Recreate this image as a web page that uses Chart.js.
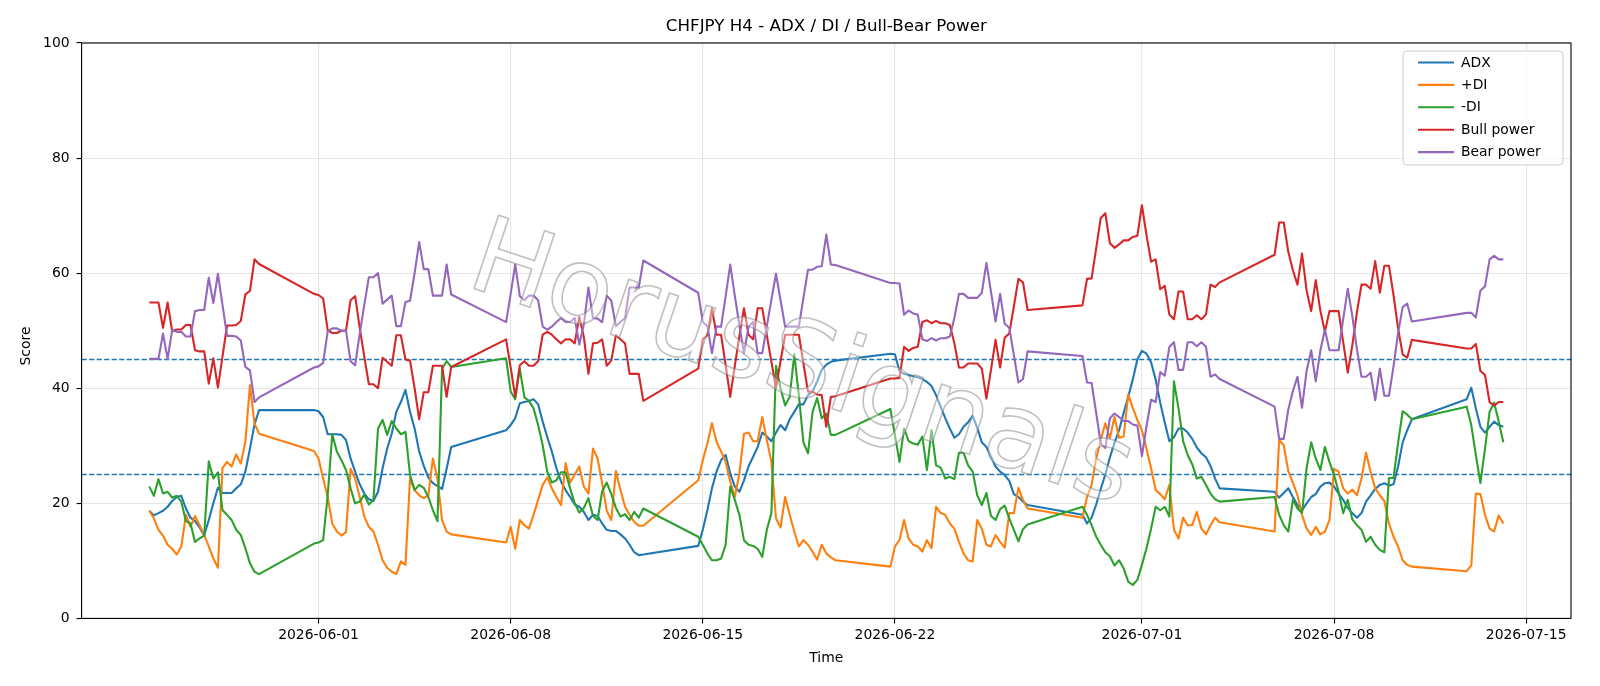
<!DOCTYPE html>
<html><head><meta charset="utf-8">
<script src="https://cdn.jsdelivr.net/npm/chart.js@4.4.1/dist/chart.umd.min.js"></script>
<style>html,body{margin:0;padding:0;background:#fff}#wrap{width:1600px;height:686px}</style>
</head><body><div id="wrap"><canvas id="c" width="1600" height="686"></canvas></div>
<script>
const chartTitle = 'CHFJPY H4 - ADX / DI / Bull-Bear Power';
const xAxisTitle = 'Time';
const yAxisTitle = 'Score';
const watermarkText = 'HorusSignals';
// H4 trading sessions (UTC), one bar every 4 hours inside each session
const sessions = [
  ['2026-05-25T20:00Z', '2026-05-29T20:00Z'],
  ['2026-05-31T20:00Z', '2026-06-05T20:00Z'],
  ['2026-06-07T20:00Z', '2026-06-12T20:00Z'],
  ['2026-06-14T20:00Z', '2026-06-19T20:00Z'],
  ['2026-06-21T20:00Z', '2026-06-26T20:00Z'],
  ['2026-06-28T20:00Z', '2026-07-03T20:00Z'],
  ['2026-07-05T20:00Z', '2026-07-10T20:00Z'],
  ['2026-07-12T20:00Z', '2026-07-14T04:00Z']
];
const xTickLabels = ['2026-06-01','2026-06-08','2026-06-15','2026-06-22','2026-07-01','2026-07-08','2026-07-15'];
const yTickValues = [0, 20, 40, 60, 80, 100];
const thresholds = [45, 25];
const seriesNames = ['ADX', '+DI', '-DI', 'Bull power', 'Bear power'];
const seriesColors = ['#1f77b4', '#ff7f0e', '#2ca02c', '#d62728', '#9467bd'];

const adx = [
  18.7,17.9,18.3,18.7,19.4,20.4,21.1,21.3,19.1,17.5,16.9,15.8,14.4,17.1,20.0,22.7,21.8,21.8,21.8,22.6,23.3,25.5,29.5,33.7,36.2,
  36.2,36.0,35.0,32.0,32.0,32.0,31.9,31.0,27.8,25.5,23.3,21.7,20.7,20.4,22.0,26.1,29.5,32.1,35.9,37.6,39.7,35.9,33.0,29.0,26.5,24.5,23.5,23.0,22.5,26.0,29.8,
  32.7,33.6,34.8,37.4,37.6,37.8,38.1,37.2,34.2,31.5,29.0,26.1,23.8,22.3,21.1,19.8,19.4,18.5,17.1,18.0,17.8,16.5,15.4,15.2,15.2,14.6,13.9,12.8,11.5,11.0,11.1,
  12.6,15.4,18.8,22.6,25.5,27.5,28.4,25.2,22.9,22.0,24.0,26.4,28.1,29.8,32.3,31.6,30.8,32.3,33.6,32.7,34.6,35.9,37.2,37.2,38.8,39.4,41.2,43.2,44.1,44.6,44.8,
  46.0,45.9,43.0,42.5,42.3,42.1,41.9,41.6,41.1,40.4,38.8,36.8,34.8,33.0,31.4,32.0,33.3,34.1,35.2,33.1,30.6,29.8,28.1,26.4,25.5,24.9,23.9,21.6,21.1,20.3,19.7,
  18.0,16.5,17.5,19.8,22.5,25.0,28.0,30.5,32.7,35.7,38.5,41.5,45.0,46.5,46.0,44.5,41.5,37.5,34.0,30.8,31.5,33.0,33.0,32.3,31.2,29.7,28.7,28.0,26.5,24.3,22.6,
  22.0,21.0,21.8,22.6,21.1,19.7,18.8,20.0,21.1,21.6,22.9,23.5,23.6,22.9,21.7,20.6,19.2,18.3,17.5,18.3,20.3,21.4,22.5,23.2,23.5,23.1,23.3,26.4,30.6,32.7,34.6,
  38.1,40.1,36.5,33.3,32.3,33.3,34.2,33.6,33.3
];
const plusDI = [
  18.7,17.4,15.4,14.4,12.8,12.1,11.1,12.5,18.0,15.9,17.8,16.2,14.5,12.5,10.4,8.8,26.1,27.2,26.4,28.5,26.9,30.7,40.5,33.9,32.1,
  29.1,27.8,24.3,21.1,16.5,15.1,14.4,15.0,26.0,24.3,21.1,17.7,15.9,15.1,12.8,10.1,8.8,8.1,7.7,9.9,9.3,24.3,22.3,21.4,20.9,21.4,27.8,24.3,17.1,15.1,14.6,
  13.2,15.9,12.1,17.1,16.2,15.6,18.0,20.6,23.2,24.5,22.6,21.1,19.7,27.0,23.6,25.0,26.4,22.9,21.7,29.5,27.8,23.5,18.7,17.1,25.6,22.3,19.4,18.0,16.8,16.1,16.1,
  24.0,27.5,30.4,33.9,30.7,29.0,27.2,23.8,21.1,25.2,32.1,32.3,30.8,30.8,35.0,31.0,27.2,17.4,15.8,21.1,18.0,15.1,12.5,13.6,12.8,11.6,10.2,12.8,11.3,10.6,10.1,
  9.0,12.5,13.6,17.1,13.9,12.8,12.5,11.6,13.6,12.2,19.4,18.3,18.0,16.5,15.6,13.3,11.3,10.1,9.9,17.1,15.6,12.8,12.5,14.5,13.3,12.3,18.3,18.3,22.7,20.6,19.1,
  17.5,21.1,23.2,27.8,31.0,33.9,31.3,35.0,31.4,31.6,38.9,36.6,34.5,32.7,29.5,26.1,22.3,21.6,20.7,23.2,15.4,13.9,17.5,16.2,16.2,18.5,15.6,14.6,16.2,17.5,16.7,
  15.1,31.0,30.1,25.6,23.6,21.4,18.0,15.6,14.5,15.9,14.6,15.1,17.1,26.0,25.5,22.6,21.7,22.4,21.4,24.3,28.8,25.4,22.6,21.4,20.4,16.5,14.2,12.5,10.1,9.3,9.0,
  8.2,9.2,21.7,21.6,18.0,15.6,15.1,17.9,16.5
];
const minusDI = [
  22.9,21.3,24.2,21.7,22.0,21.0,21.3,20.3,16.9,16.5,13.3,13.9,14.4,27.3,24.3,25.4,18.8,18.0,17.1,15.4,14.5,12.2,9.6,8.1,7.7,
  13.0,13.2,13.6,21.4,32.0,29.0,27.5,25.8,22.6,20.0,20.3,21.5,19.8,20.6,33.0,34.5,31.9,34.3,33.0,32.0,32.4,24.9,22.3,23.2,22.7,21.1,18.8,16.9,43.4,44.7,43.7,
  45.2,39.4,38.1,43.4,38.4,37.8,36.5,33.6,30.1,25.5,23.6,24.0,25.4,25.4,22.6,20.0,18.4,19.2,20.9,17.8,17.1,22.1,23.6,21.6,19.2,17.7,18.1,17.1,18.5,17.5,19.1,
  14.2,12.8,11.3,10.1,10.1,10.4,12.8,22.9,20.6,18.0,13.6,12.8,12.6,12.1,10.7,15.4,18.3,43.9,40.0,37.0,38.5,45.9,38.8,30.6,28.7,35.9,38.3,34.8,35.6,31.9,31.9,
  36.4,31.9,27.2,33.0,30.8,30.4,30.2,31.6,25.8,32.7,26.6,26.2,24.3,24.6,24.2,28.8,28.8,26.6,25.5,21.4,19.7,21.8,17.8,17.1,19.0,19.6,17.4,15.4,13.4,15.5,16.3,
  19.4,18.0,16.2,14.2,12.8,11.5,10.8,9.2,10.1,8.7,6.4,5.8,6.7,9.3,12.2,15.6,19.4,18.8,19.4,17.7,41.2,36.5,30.8,28.4,26.8,24.3,24.6,23.2,21.7,20.7,20.3,
  21.1,18.0,16.2,15.1,20.6,19.1,18.3,26.1,30.6,27.8,25.8,29.8,27.2,24.9,22.0,18.3,20.6,17.2,16.2,15.4,13.3,14.2,12.8,11.9,11.5,24.4,24.4,30.5,36.0,35.4,34.6,
  36.8,33.6,28.4,23.5,29.5,35.9,37.5,34.2,30.6
];
const bullPower = [
  54.9,54.9,54.9,50.5,54.9,49.9,50.2,50.2,51.0,51.0,46.6,46.4,46.4,40.8,45.2,40.1,45.5,50.9,50.9,51.0,51.7,56.3,56.9,62.4,61.6,
  56.4,56.2,55.6,50.1,49.6,49.6,50.0,50.0,55.3,56.0,50.5,45.5,40.7,40.7,40.0,45.3,44.6,43.9,49.2,49.2,45.0,44.8,40.0,34.6,39.3,39.3,43.9,43.9,43.9,38.5,43.7,
  48.5,43.6,38.5,44.0,44.7,43.9,43.9,44.7,49.3,49.8,49.3,48.5,47.8,48.5,48.5,47.8,52.4,48.9,42.5,47.8,47.9,48.5,43.9,44.8,49.2,48.5,47.8,42.5,42.5,42.5,37.8,
  43.4,48.5,49.2,53.9,49.3,49.3,44.0,38.5,43.9,49.1,53.9,49.3,48.5,53.9,53.9,49.2,44.6,40.1,44.7,49.3,49.3,49.3,49.3,44.3,39.4,39.4,38.9,38.8,33.3,38.5,38.6,
  41.7,41.7,41.8,47.2,46.5,47.0,47.2,51.5,51.8,51.3,51.7,51.3,51.3,51.0,47.8,43.6,43.6,44.3,44.3,44.3,43.4,38.2,43.2,48.4,43.6,48.8,49.5,54.2,59.0,58.4,53.6,
  54.4,59.0,59.1,64.3,69.6,70.4,65.2,64.4,65.0,65.7,65.7,66.3,66.5,71.8,66.6,62.0,62.4,57.2,57.8,52.8,52.0,56.8,56.8,52.0,52.0,52.7,52.0,52.8,58.0,57.6,58.4,
  63.2,68.8,68.8,63.7,60.5,58.0,63.4,57.0,53.4,58.8,53.5,49.8,53.4,53.4,53.4,48.0,42.7,47.5,53.2,58.0,58.0,57.3,62.1,56.6,61.3,61.3,56.2,50.4,45.9,45.3,48.4,
  46.9,46.9,47.7,43.0,42.3,37.6,37.0,37.6,37.6
];
const bearPower = [
  45.1,45.1,45.1,49.5,45.1,50.1,49.8,49.8,49.0,49.0,53.4,53.6,53.6,59.2,54.8,59.9,54.5,49.1,49.1,49.0,48.3,43.7,43.1,37.6,38.4,
  43.6,43.8,44.4,49.9,50.4,50.4,50.0,50.0,44.7,44.0,49.5,54.5,59.3,59.3,60.0,54.7,55.4,56.1,50.8,50.8,55.0,55.2,60.0,65.4,60.7,60.7,56.1,56.1,56.1,61.5,56.3,
  51.5,56.4,61.5,56.0,55.3,56.1,56.1,55.3,50.7,50.2,50.7,51.5,52.2,51.5,51.5,52.2,47.6,51.1,57.5,52.2,52.1,51.5,56.1,55.2,50.8,51.5,52.2,57.5,57.5,57.5,62.2,
  56.6,51.5,50.8,46.1,50.7,50.7,56.0,61.5,56.1,50.9,46.1,50.7,51.5,46.1,46.1,50.8,55.4,59.9,55.3,50.7,50.7,50.7,50.7,55.7,60.6,60.6,61.1,61.2,66.7,61.5,61.4,
  58.3,58.3,58.2,52.8,53.5,53.0,52.8,48.5,48.2,48.7,48.3,48.7,48.7,49.0,52.2,56.4,56.4,55.7,55.7,55.7,56.6,61.8,56.8,51.6,56.4,51.2,50.5,45.8,41.0,41.6,46.4,
  45.6,41.0,40.9,35.7,30.4,29.6,34.8,35.6,35.0,34.3,34.3,33.7,33.5,28.2,33.4,38.0,37.6,42.8,42.2,47.2,48.0,43.2,43.2,48.0,48.0,47.3,48.0,47.2,42.0,42.4,41.6,
  36.8,31.2,31.2,36.3,39.5,42.0,36.6,43.0,46.6,41.2,46.5,50.2,46.6,46.6,46.6,52.0,57.3,52.5,46.8,42.0,42.0,42.7,37.9,43.4,38.7,38.7,43.8,49.6,54.1,54.7,51.6,
  53.1,53.1,52.3,57.0,57.7,62.4,63.0,62.4,62.4
];

// bar timestamps
const times = [];
for (const [a, b] of sessions) {
  let t = Date.parse(a); const end = Date.parse(b);
  while (t <= end) { times.push(t); t += 4 * 3600 * 1000; }
}
const span = times[times.length - 1] - times[0];
const xMin = times[0] - 0.05 * span, xMax = times[times.length - 1] + 0.05 * span;
const xTickValues = xTickLabels.map(s => Date.parse(s + 'T00:00Z'));

const seriesValues = [adx, plusDI, minusDI, bullPower, bearPower];
const datasets = seriesValues.map((vals, i) => ({
  label: seriesNames[i],
  data: vals.map((v, k) => ({ x: times[k], y: v })),
  borderColor: seriesColors[i],
  backgroundColor: seriesColors[i],
  borderWidth: 2.1,
  pointRadius: 0,
  tension: 0,
  fill: false,
  borderJoinStyle: 'round',
  order: seriesNames.length - i
}));

const FONT = 'DejaVu Sans';
const decor = {
  id: 'decor',
  beforeDatasetsDraw(chart) {
    const { ctx, chartArea: ca, scales: { y } } = chart;
    ctx.save();
    ctx.strokeStyle = '#1f77b4'; ctx.lineWidth = 1.4; ctx.setLineDash([5.2, 2.3]);
    for (const th of thresholds) {
      const py = y.getPixelForValue(th);
      ctx.beginPath(); ctx.moveTo(ca.left, py); ctx.lineTo(ca.right, py); ctx.stroke();
    }
    ctx.restore();
  },
  afterDatasetsDraw(chart) {
    const { ctx, chartArea: ca } = chart;
    // watermark
    ctx.save();
    ctx.translate(792, 395);
    ctx.rotate(18.5 * Math.PI / 180);
    ctx.font = '106px ' + FONT;
    ctx.textAlign = 'center'; ctx.textBaseline = 'alphabetic';
    ctx.fillStyle = 'rgba(255,255,255,0.4)';
    ctx.fillText(watermarkText, 0, 0);
    ctx.lineWidth = 1.6; ctx.strokeStyle = 'rgba(130,130,130,0.5)';
    ctx.strokeText(watermarkText, 0, 0);
    ctx.restore();
    // frame
    ctx.save();
    ctx.strokeStyle = '#000'; ctx.lineWidth = 1.1;
    ctx.strokeRect(ca.left, ca.top, ca.right - ca.left, ca.bottom - ca.top);
    ctx.restore();
    // legend
    ctx.save();
    const lx = 1403, ly = 51, lw = 160, lh = 114, r = 4;
    ctx.beginPath();
    ctx.moveTo(lx + r, ly); ctx.lineTo(lx + lw - r, ly); ctx.quadraticCurveTo(lx + lw, ly, lx + lw, ly + r);
    ctx.lineTo(lx + lw, ly + lh - r); ctx.quadraticCurveTo(lx + lw, ly + lh, lx + lw - r, ly + lh);
    ctx.lineTo(lx + r, ly + lh); ctx.quadraticCurveTo(lx, ly + lh, lx, ly + lh - r);
    ctx.lineTo(lx, ly + r); ctx.quadraticCurveTo(lx, ly, lx + r, ly); ctx.closePath();
    ctx.fillStyle = 'rgba(255,255,255,0.8)'; ctx.fill();
    ctx.strokeStyle = '#cccccc'; ctx.lineWidth = 1; ctx.stroke();
    ctx.font = '13.9px ' + FONT; ctx.textBaseline = 'middle'; ctx.textAlign = 'left';
    chart.data.datasets.forEach((ds, i) => {
      const ry = 62.5 + i * 22.4;
      ctx.strokeStyle = ds.borderColor; ctx.lineWidth = 2.1;
      ctx.beginPath(); ctx.moveTo(1418, ry); ctx.lineTo(1454, ry); ctx.stroke();
      ctx.fillStyle = '#000'; ctx.fillText(ds.label, 1461, ry + 0.5);
    });
    ctx.restore();
  },
  afterDraw(chart) {
    const { ctx, chartArea: ca } = chart;
    ctx.save();
    ctx.fillStyle = '#000'; ctx.textAlign = 'center'; ctx.textBaseline = 'middle';
    ctx.font = '16.7px ' + FONT;
    ctx.fillText(chartTitle, (ca.left + ca.right) / 2, 27);
    ctx.font = '13.9px ' + FONT;
    ctx.fillText(xAxisTitle, (ca.left + ca.right) / 2, 658);
    ctx.translate(26, 346);
    ctx.rotate(-Math.PI / 2);
    ctx.fillText(yAxisTitle, 0, 0);
    ctx.restore();
  }
};

new Chart(document.getElementById('c'), {
  type: 'line',
  data: { datasets },
  options: {
    responsive: false, animation: false, devicePixelRatio: 1, events: [],
    layout: { padding: { left: 0, right: 29, top: 43, bottom: 0 } },
    plugins: { legend: { display: false }, title: { display: false }, tooltip: { enabled: false } },
    scales: {
      x: {
        type: 'linear', min: xMin, max: xMax,
        afterFit(s) { s.height = 686 - 618.4; },
        afterBuildTicks(s) { s.ticks = xTickValues.map(v => ({ value: v })); },
        grid: { color: '#e6e6e6', lineWidth: 1.1, tickColor: '#000', tickLength: 5, tickWidth: 1.1 },
        border: { display: false },
        ticks: { color: '#000', font: { family: FONT, size: 13.9 }, padding: 4, maxRotation: 0, autoSkip: false,
          callback: (v, i) => xTickLabels[i] }
      },
      y: {
        type: 'linear', min: 0, max: 100,
        afterFit(s) { s.width = 81.6; },
        afterBuildTicks(s) { s.ticks = yTickValues.map(v => ({ value: v })); },
        grid: { color: '#e6e6e6', lineWidth: 1.1, tickColor: '#000', tickLength: 5, tickWidth: 1.1 },
        border: { display: false },
        ticks: { color: '#000', font: { family: FONT, size: 13.9 }, padding: 7, callback: v => String(v) }
      }
    }
  },
  plugins: [decor]
});
</script>
</body></html>
